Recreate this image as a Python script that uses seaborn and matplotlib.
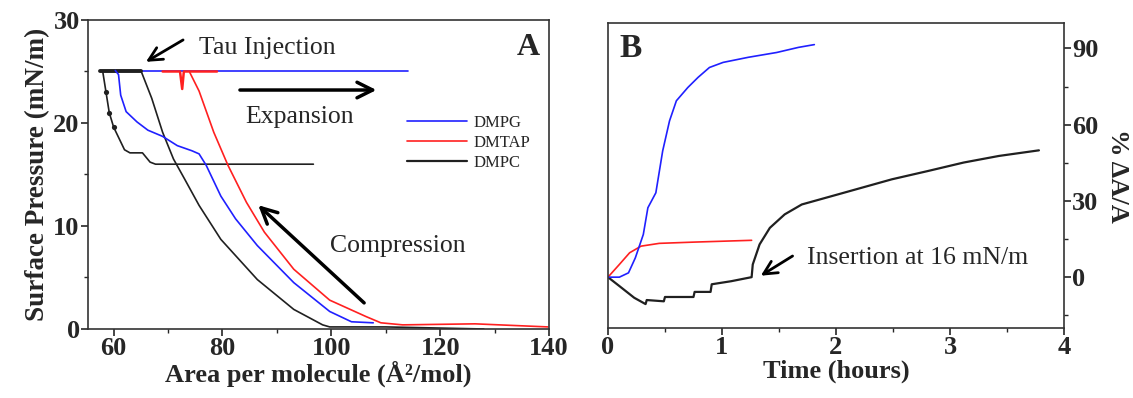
import matplotlib
matplotlib.use("Agg")
import matplotlib.pyplot as plt
import seaborn as sns
import pandas as pd

# ---- Panel A : isotherms (area per molecule vs surface pressure) ----
dmpg_area = [107.7, 103.7, 99.7, 93.1, 86.4, 82.4, 79.7, 77.0, 75.7, 74.4, 71.7, 69.0,
             66.3, 64.3, 62.3, 61.3, 60.9, 60.3]
dmpg_pi = [0.6, 0.7, 1.7, 4.5, 8.1, 10.7, 12.9, 15.9, 17.0, 17.3, 17.8, 18.7,
           19.3, 20.1, 21.1, 22.7, 24.7, 25.1]
dmpg_exp_area = [58.0, 114.1]
dmpg_exp_pi = [25.0, 25.0]

dmtap_area = [139.8, 126.4, 113.1, 109.1, 106.4, 99.7, 93.1, 87.7, 84.4, 81.0, 78.4,
              75.7, 74.0]
dmtap_pi = [0.2, 0.5, 0.4, 0.6, 1.2, 2.8, 5.8, 9.4, 12.3, 15.9, 19.1, 23.1, 24.9]
dmtap_exp_area = [69.0, 72.2, 72.6, 72.9, 73.4, 79.0]
dmtap_exp_pi = [25.0, 25.0, 23.3, 25.0, 25.0, 25.0]

dmpc_area = [128.0, 110.0, 99.7, 98.4, 93.1, 86.4, 79.7, 75.7, 73.0, 71.0, 69.0, 67.0,
             65.3, 65.0]
dmpc_pi = [0.0, 0.2, 0.2, 0.4, 1.9, 4.8, 8.7, 12.0, 14.6, 16.5, 19.1, 22.4, 24.7, 25.1]
dmpc_top_area = [57.5, 65.0]
dmpc_top_pi = [25.0, 25.0]
dmpc_drop_area = [58.0, 58.6, 59.2, 60.0, 61.0, 62.0, 63.0, 65.3, 66.7, 67.7, 96.7]
dmpc_drop_pi = [25.0, 23.0, 21.0, 19.6, 18.5, 17.4, 17.1, 17.1, 16.2, 16.0, 16.0]
dmpc_dot_area = [58.6, 59.2, 60.0]
dmpc_dot_pi = [23.0, 21.0, 19.6]

# ---- Panel B : relative area change vs time ----
dmpg_t = [0, 0.10, 0.18, 0.24, 0.31, 0.35, 0.42, 0.48, 0.54, 0.60, 0.70, 0.79, 0.89,
          1.01, 1.23, 1.48, 1.67, 1.81]
dmpg_da = [0, 0, 1.7, 7.6, 16.8, 27.3, 33.2, 49.7, 61.5, 69.4, 74.6, 78.6, 82.5,
           84.5, 86.5, 88.4, 90.4, 91.5]
dmtap_t = [0, 0.10, 0.19, 0.29, 0.45, 0.76, 1.26]
dmtap_da = [0, 5.0, 9.6, 12.2, 13.3, 13.8, 14.5]
dmpc_t = [0, 0.10, 0.23, 0.33, 0.34, 0.49, 0.50, 0.75, 0.76, 0.90, 0.91, 1.08, 1.26,
          1.27, 1.33, 1.42, 1.55, 1.70, 2.02, 2.49, 2.81, 3.12, 3.43, 3.78]
dmpc_da = [0, -3.5, -8.1, -10.6, -9.0, -9.5, -7.8, -7.8, -5.8, -5.8, -2.8, -1.6, 0,
           5.0, 12.9, 19.4, 24.7, 28.6, 32.6, 38.5, 41.8, 45.1, 47.7, 49.9]

blue, red, black = "#2020ff", "#ff2020", "#202020"

sns.set_theme(style="ticks")
plt.rcParams["font.family"] = ["Liberation Serif", "DejaVu Serif"]
plt.rcParams["axes.linewidth"] = 1.2
plt.rcParams["axes.edgecolor"] = "#333333"

fig = plt.figure(figsize=(11.33, 3.98), dpi=100)
axA = fig.add_axes([0.0777, 0.1734, 0.4069, 0.7764])
axB = fig.add_axes([0.5366, 0.1759, 0.4025, 0.7663])

def line(ax, x, y, color, lw=1.2, label=None, **kw):
    df = pd.DataFrame({"x": x, "y": y})
    sns.lineplot(data=df, x="x", y="y", sort=False, estimator=None, color=color,
                 lw=lw, label=label, ax=ax, **kw)

# panel A
line(axA, dmpg_exp_area, dmpg_exp_pi, blue)
line(axA, dmpc_area, dmpc_pi, black)
line(axA, dmpc_drop_area, dmpc_drop_pi, black)
sns.scatterplot(x=dmpc_dot_area, y=dmpc_dot_pi, color=black, s=14, linewidth=0, ax=axA)
line(axA, dmpc_top_area, dmpc_top_pi, black, lw=2.8)
line(axA, dmpg_area, dmpg_pi, blue, label="DMPG")
line(axA, dmtap_exp_area, dmtap_exp_pi, red, lw=1.8)
line(axA, dmtap_area, dmtap_pi, red, label="DMTAP")
axA.plot([], [], color=black, lw=1.6, label="DMPC")

axA.set_xlim(55.3, 140)
axA.set_ylim(0, 30)
axA.set_xticks([60, 80, 100, 120, 140])
axA.set_xticks([70, 90, 110, 130], minor=True)
axA.set_yticks([0, 10, 20, 30])
axA.set_yticks([5, 15, 25], minor=True)
axA.set_xlabel("Area per molecule (Å²/mol)", fontsize=19, fontweight="bold", labelpad=0)
axA.set_ylabel("Surface Pressure (mN/m)", fontsize=19.5, fontweight="bold", labelpad=2)

handles, labels = axA.get_legend_handles_labels()
order = [labels.index(k) for k in ["DMPG", "DMTAP", "DMPC"]]
axA.legend([handles[i] for i in order], ["DMPG", "DMTAP", "DMPC"], frameon=False,
           fontsize=12, loc="upper left", bbox_to_anchor=(0.66, 0.74),
           handlelength=3.6, handletextpad=0.35, labelspacing=0.22)

axA.text(75.7, 27.3, "Tau Injection", fontsize=18.5, va="center")
axA.annotate("", xy=(65.5, 25.8), xytext=(73.2, 28.2),
             arrowprops=dict(arrowstyle="->", lw=2, color="black", mutation_scale=24))
axA.annotate("", xy=(108.8, 23.2), xytext=(82.7, 23.2),
             arrowprops=dict(arrowstyle="->", lw=2.5, color="black", mutation_scale=28))
axA.text(94.1, 20.6, "Expansion", fontsize=18.5, ha="center", va="center")
axA.annotate("", xy=(86.2, 12.2), xytext=(106.4, 2.35),
             arrowprops=dict(arrowstyle="->", lw=2.5, color="black", mutation_scale=28))
axA.text(99.7, 8.1, "Compression", fontsize=18.5, va="center")
axA.text(138.4, 27.3, "A", fontsize=23, fontweight="bold", ha="right", va="center")

# panel B
line(axB, dmpc_t, dmpc_da, black, lw=1.6)
line(axB, dmtap_t, dmtap_da, red)
line(axB, dmpg_t, dmpg_da, blue)
axB.set_xlim(0, 4)
axB.set_ylim(-20, 100)
axB.set_xticks([0, 1, 2, 3, 4])
axB.set_xticks([0.5, 1.5, 2.5, 3.5], minor=True)
axB.yaxis.tick_right()
axB.yaxis.set_label_position("right")
axB.set_yticks([0, 30, 60, 90])
axB.set_yticks([-15, 15, 45, 75], minor=True)
axB.set_xlabel("Time (hours)", fontsize=19, fontweight="bold", labelpad=0)
axB.set_ylabel("% ΔA/A", fontsize=19, fontweight="bold", rotation=-90, labelpad=22)
axB.text(0.1, 90, "B", fontsize=24, fontweight="bold", va="center")
axB.text(1.75, 7.6, "Insertion at 16 mN/m", fontsize=18.5, va="center")
axB.annotate("", xy=(1.32, 0), xytext=(1.64, 8.9),
             arrowprops=dict(arrowstyle="->", lw=2, color="black", mutation_scale=24))
if axB.get_legend() is not None:
    axB.get_legend().remove()

for ax in (axA, axB):
    ax.tick_params(which="major", length=5, width=1.2, labelsize=19, pad=1)
    ax.tick_params(which="minor", length=3, width=1)
    for lab in ax.get_xticklabels() + ax.get_yticklabels():
        lab.set_fontweight("bold")

fig.savefig("out.png", dpi=100)
